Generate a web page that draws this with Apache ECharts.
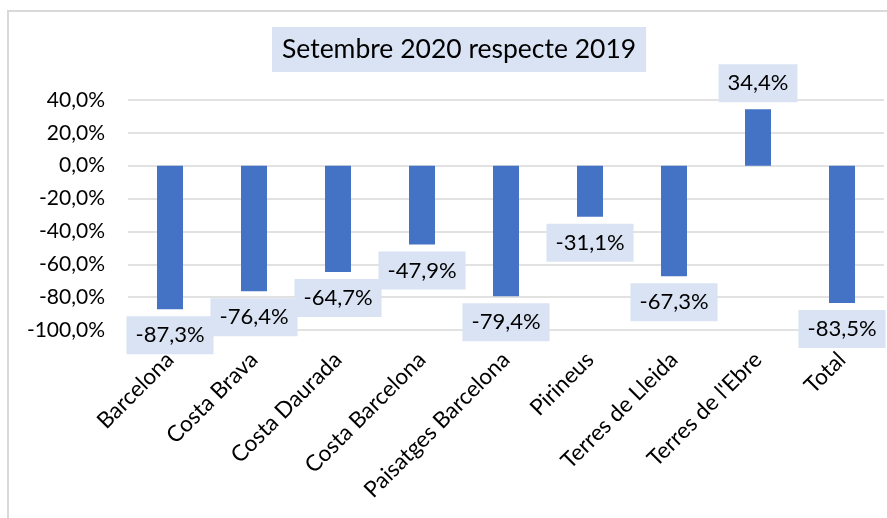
<!DOCTYPE html>
<html>
<head>
<meta charset="utf-8">
<script src="https://cdn.jsdelivr.net/npm/echarts@6/dist/echarts.min.js"></script>
<style>
  html, body { margin: 0; padding: 0; background: #fff; }
  #chart { width: 887px; height: 518px; }
</style>
</head>
<body>
<div id="chart"></div>
<script>
const categories = ['Barcelona', 'Costa Brava', 'Costa Daurada', 'Costa Barcelona',
  'Paisatges Barcelona', 'Pirineus', 'Terres de Lleida', "Terres de l'Ebre", 'Total']
const values = [-87.3, -76.4, -64.7, -47.9, -79.4, -31.1, -67.3, 34.4, -83.5]
const titleText = 'Setembre 2020 respecte 2019'

const fontFamily = 'Lato, "Open Sans", sans-serif'
const pct = v => v.toFixed(1).replace('.', ',') + '%'

const chart = echarts.init(document.getElementById('chart'))
chart.setOption({
  backgroundColor: '#fff',
  animation: false,
  graphic: [{
    type: 'rect',
    shape: { x: 8, y: 11, width: 900, height: 520 },
    style: { fill: 'none', stroke: '#d9d9d9', lineWidth: 2 },
    silent: true
  }],
  title: {
    text: titleText,
    left: 272,
    top: 27,
    padding: [9, 10],
    backgroundColor: '#dae3f3',
    textStyle: { fontFamily, fontSize: 26.5, fontWeight: 'normal', color: '#000' }
  },
  grid: { left: 128, right: 3, top: 100, bottom: 188 },
  xAxis: {
    type: 'category',
    data: categories,
    axisLine: { show: false },
    axisTick: { show: false },
    axisLabel: {
      rotate: 45,
      margin: 26,
      interval: 0,
      fontFamily,
      fontSize: 22.5,
      color: '#000'
    }
  },
  yAxis: {
    type: 'value',
    min: -100,
    max: 40,
    interval: 20,
    axisLine: { show: false },
    axisTick: { show: false },
    splitLine: { lineStyle: { color: '#d9d9d9', width: 1.5 } },
    axisLabel: {
      margin: 23,
      fontFamily,
      fontSize: 21,
      color: '#000',
      formatter: pct
    }
  },
  series: [{
    type: 'bar',
    data: values.map(v => ({
      value: v,
      label: { position: v < 0 ? 'bottom' : 'top' }
    })),
    barWidth: 26,
    itemStyle: { color: '#4472c4' },
    label: {
      show: true,
      distance: 7,
      fontFamily,
      fontSize: 22,
      lineHeight: 22,
      color: '#000',
      backgroundColor: '#dae3f3',
      padding: [8, 9],
      formatter: p => pct(p.value)
    }
  }]
})
</script>
</body>
</html>
